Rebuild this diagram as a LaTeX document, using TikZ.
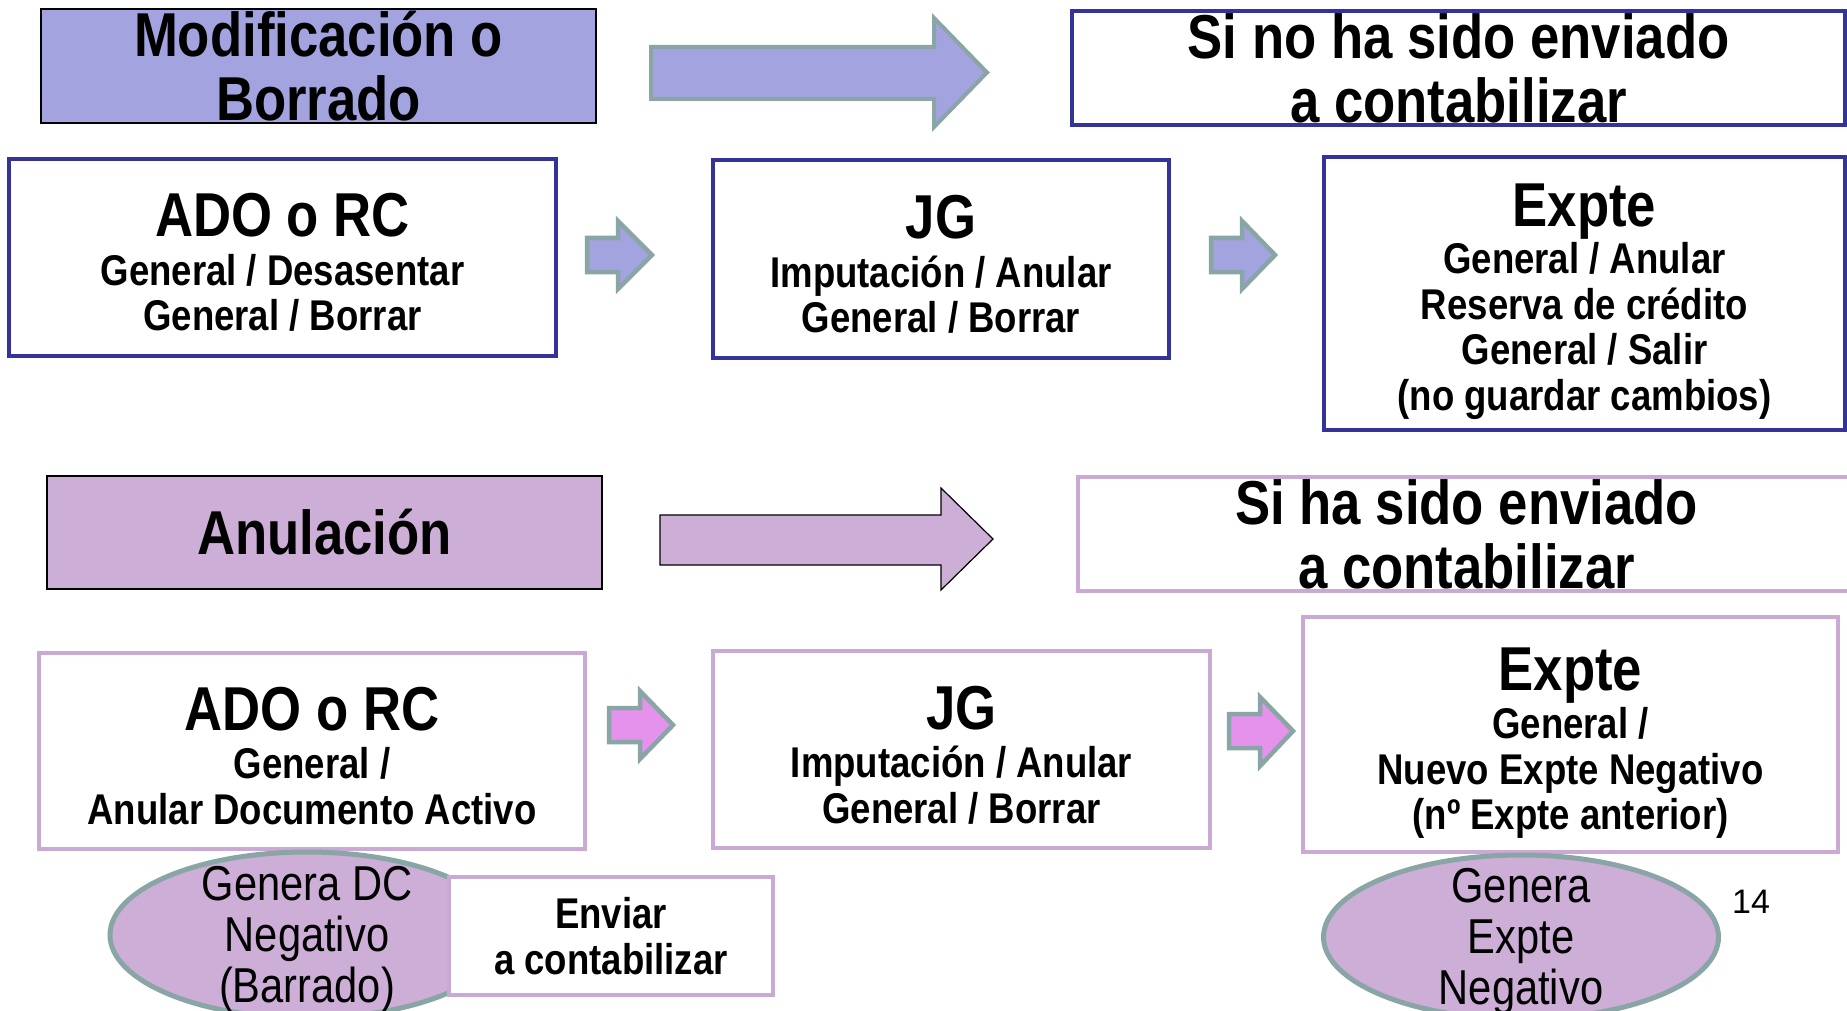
\documentclass[tikz,border=0pt]{standalone}
\usepackage{fontspec}
\setmainfont{Liberation Sans}[FakeStretch=0.85]
\newfontfamily\regfont{Liberation Sans}
\usetikzlibrary{shapes.geometric}
\definecolor{lav}{RGB}{163,163,224}
\definecolor{navy}{RGB}{51,51,153}
\definecolor{thist}{RGB}{204,174,214}
\definecolor{thistB}{RGB}{202,170,212}
\definecolor{pinkv}{RGB}{228,146,236}
\definecolor{grayteal}{RGB}{138,165,165}
\newcommand\hdfont{\fontsize{62}{64}\selectfont\bfseries}
\newcommand\bdfont{\fontsize{43}{45.5}\selectfont\bfseries}
\newcommand\elfont{\fontsize{49}{51}\selectfont}
\newcommand\tstrut[1]{\rule{0pt}{#1pt}}
\tikzset{
  boxbase/.style={inner sep=0pt, align=center, font=\bdfont},
  navybox/.style={boxbase, draw=navy, line width=4pt, fill=white},
  thbox/.style={boxbase, draw=thistB, line width=4pt, fill=white},
  headlav/.style={boxbase, draw=black, line width=1.5pt, fill=lav, font=\hdfont},
  headth/.style={boxbase, draw=black, line width=1.5pt, fill=thist, font=\hdfont},
  navyhead/.style={boxbase, draw=navy, line width=4pt, fill=white, font=\hdfont},
  thhead/.style={boxbase, draw=thistB, line width=4pt, fill=white, font=\hdfont},
  bigarrowA/.style={draw=grayteal, line width=4pt, fill=lav, line join=miter},
  bigarrowB/.style={draw=black, line width=1.2pt, fill=thist, line join=miter},
  smallarrowA/.style={draw=grayteal, line width=4.5pt, fill=lav, line join=miter},
  smallarrowB/.style={draw=grayteal, line width=4.5pt, fill=pinkv, line join=miter},
  ellip/.style={ellipse, draw=grayteal, line width=5pt, fill=thist, inner sep=0pt},
  eltext/.style={inner sep=0pt, align=center, font=\elfont},
}
\begin{document}
\begin{tikzpicture}[x=1pt,y=-1pt]
\useasboundingbox (0,0) rectangle (1847,1011);
\clip (0,0) rectangle (1847,1011);
\fill[white] (0,0) rectangle (1847,1011);

% top section
\node[headlav, minimum width=555, minimum height=114] (mod) at (318.5,66) {Modificación o\\Borrado};
\draw[bigarrowA] (651,47) -- (934,47) -- (934,18) -- (987,72.5) -- (934,127) -- (934,99) -- (651,99) -- cycle;
\node[navyhead, minimum width=773, minimum height=114] (sino) at (1458.5,68) {Si no ha sido enviado\\a contabilizar};

\node[navybox, minimum width=547, minimum height=197] (ado1) at (282.5,257.5)
  {{\hdfont\tstrut{53}ADO o RC}\\[3pt]General / Desasentar\\General / Borrar};
\draw[smallarrowA] (587,238) -- (618,238) -- (618,221) -- (652,255) -- (618,289) -- (618,272) -- (587,272) -- cycle;
\node[navybox, minimum width=456, minimum height=198] (jg1) at (941,259)
  {{\hdfont\tstrut{54}JG}\\[3pt]Imputación / Anular\\General / Borrar};
\draw[smallarrowA] (1211,238) -- (1242,238) -- (1242,221) -- (1275,255) -- (1242,289) -- (1242,272) -- (1211,272) -- cycle;
\node[navybox, minimum width=521, minimum height=273] (ex1) at (1584.5,293.5)
  {{\hdfont\tstrut{59}Expte}\\[2pt]General / Anular\\Reserva de crédito\\General / Salir\\(no guardar cambios)};

% bottom section
\node[headth, minimum width=555, minimum height=113] (anul) at (324.5,532.5) {Anulación};
\draw[bigarrowB] (660,515) -- (941,515) -- (941,488) -- (993,539) -- (941,590) -- (941,565) -- (660,565) -- cycle;
\node[thhead, minimum width=777, minimum height=114] (siha) at (1466.5,534) {Si ha sido enviado\\a contabilizar};

\node[thbox, minimum width=546, minimum height=196] (ado2) at (312,751)
  {{\hdfont\tstrut{53}ADO o RC}\\[3pt]General /\\Anular Documento Activo};
\draw[smallarrowB] (609,708) -- (640,708) -- (640,691) -- (673,725) -- (640,759) -- (640,742) -- (609,742) -- cycle;
\node[thbox, minimum width=497, minimum height=197] (jg2) at (961.5,749.5)
  {{\hdfont\tstrut{54}JG}\\[3pt]Imputación / Anular\\General / Borrar};
\draw[smallarrowB] (1229,714) -- (1260,714) -- (1260,697) -- (1293,731) -- (1260,766) -- (1260,748) -- (1229,748) -- cycle;
\node[thbox, minimum width=535, minimum height=235] (ex2) at (1570.5,734.5)
  {{\hdfont\tstrut{60}Expte}\\[3pt]General /\\Nuevo Expte Negativo\\(nº Expte anterior)};

% ellipses
\node[ellip, minimum width=394, minimum height=166] (el1) at (307,935) {};
\node[thbox, minimum width=324, minimum height=118] (env) at (611,936) {Enviar\\a contabilizar};
\node[eltext] (el1t) at ([yshift=-4pt]el1.center) {Genera DC\\Negativo\\(Barrado)};
\node[ellip, minimum width=395, minimum height=164] (el2) at (1521,937) {};
\node[eltext] (el2t) at ([yshift=-4pt]el2.center) {Genera\\Expte\\Negativo};
\node[inner sep=0pt, font=\regfont\fontsize{34}{36}\selectfont] (pg) at (1751,902) {14};
\end{tikzpicture}
\end{document}
